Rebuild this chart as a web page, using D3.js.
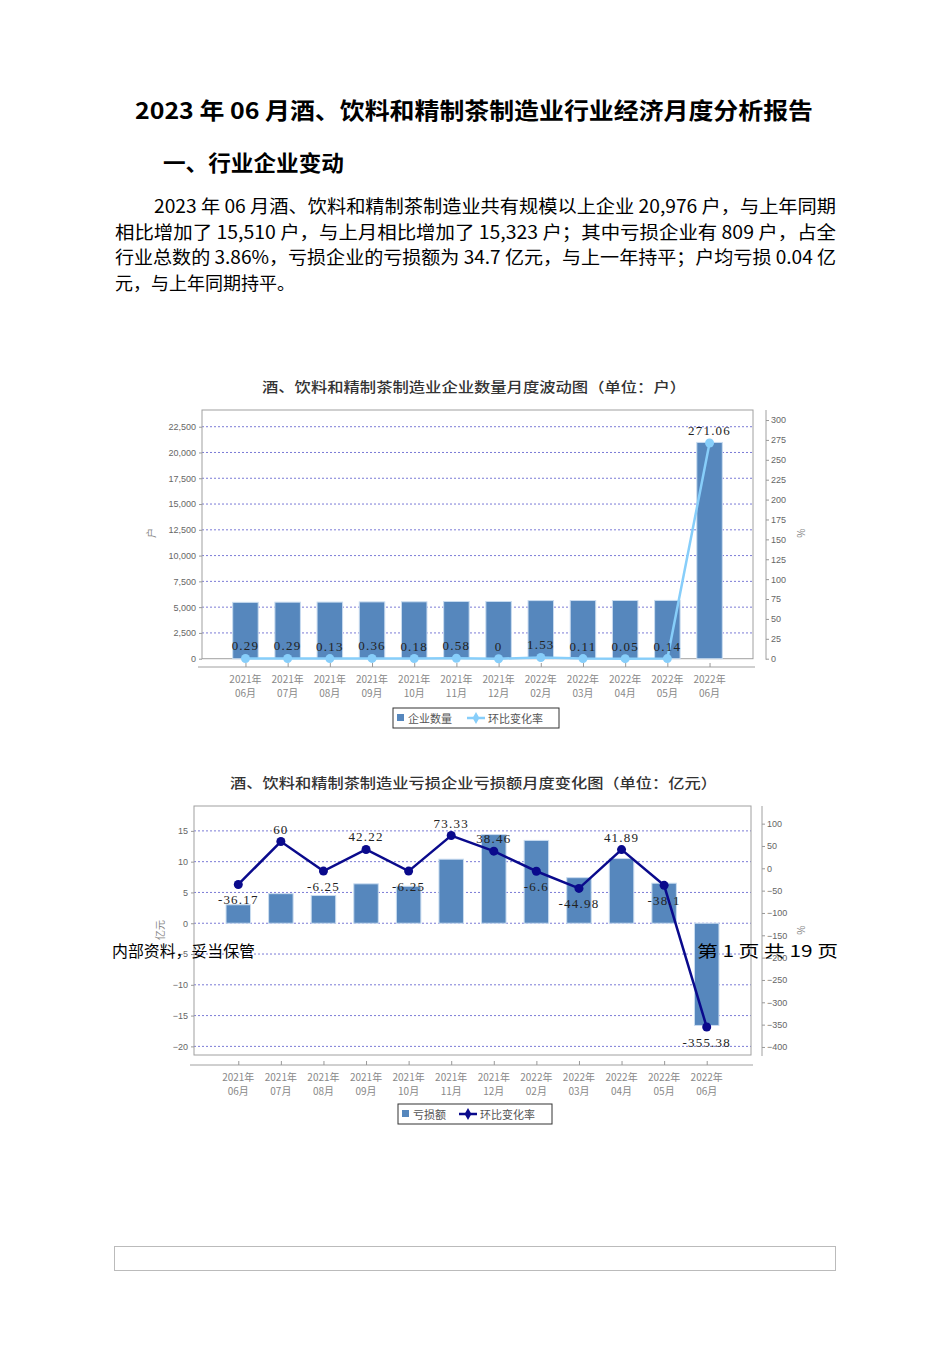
<!DOCTYPE html>
<html><head><meta charset="utf-8">
<script src="https://cdn.jsdelivr.net/npm/d3@7"></script>
<style>
html,body{margin:0;padding:0;background:#fff;}
svg{display:block;}
</style></head>
<body>
<svg id="page" width="950" height="1345"></svg>
<script>
// ---------- data ----------
const months = ["2021年06月","2021年07月","2021年08月","2021年09月","2021年10月","2021年11月","2021年12月","2022年02月","2022年03月","2022年04月","2022年05月","2022年06月"];
const firmCount = [5466, 5482, 5489, 5509, 5519, 5551, 5551, 5636, 5642, 5645, 5653, 20976];
const firmRate = [0.29, 0.29, 0.13, 0.36, 0.18, 0.58, 0, 1.53, 0.11, 0.05, 0.14, 271.06];
const lossAmount = [3.0, 4.8, 4.5, 6.4, 6.0, 10.4, 14.4, 13.45, 7.4, 10.5, 6.5, -16.6];
const lossRate = [-36.17, 60, -6.25, 42.22, -6.25, 73.33, 38.46, -6.6, -44.98, 41.89, -38.1, -355.38];
const countTicks = [0, 2500, 5000, 7500, 10000, 12500, 15000, 17500, 20000, 22500];
const countRateTicks = [0, 25, 50, 75, 100, 125, 150, 175, 200, 225, 250, 275, 300];
const lossTicks = [-20, -15, -10, -5, 0, 5, 10, 15];
const lossRateTicks = [-400, -350, -300, -250, -200, -150, -100, -50, 0, 50, 100];

const svg = d3.select("#page");
const CJK = "'Noto Sans CJK SC','Noto Sans',sans-serif";
const NUM = "'Liberation Serif','DejaVu Serif',serif";

// ---------- document text ----------
svg.append("text").attr("x",135).attr("y",119).attr("textLength",678).attr("lengthAdjust","spacingAndGlyphs")
  .style("font-family",CJK).style("font-size","23px").style("font-weight","bold").attr("fill","#000")
  .text("2023 年 06 月酒、饮料和精制茶制造业行业经济月度分析报告");
svg.append("text").attr("x",163).attr("y",171).attr("textLength",181).attr("lengthAdjust","spacingAndGlyphs")
  .style("font-family",CJK).style("font-size","22px").style("font-weight","bold").attr("fill","#000")
  .text("一、行业企业变动");
const para = [
  {x:154, y:213, w:682, t:"2023 年 06 月酒、饮料和精制茶制造业共有规模以上企业 20,976 户，与上年同期"},
  {x:115, y:239, w:721, t:"相比增加了 15,510 户，与上月相比增加了 15,323 户；其中亏损企业有 809 户，占全"},
  {x:115, y:264, w:721, t:"行业总数的 3.86%，亏损企业的亏损额为 34.7 亿元，与上一年持平；户均亏损 0.04 亿"},
  {x:115, y:290, w:null, t:"元，与上年同期持平。"}
];
para.forEach(p=>{
  const t = svg.append("text").attr("x",p.x).attr("y",p.y)
    .style("font-family",CJK).style("font-size","18px").attr("fill","#000").text(p.t);
  if(p.w) t.attr("textLength",p.w).attr("lengthAdjust","spacingAndGlyphs");
});

// ---------- helpers ----------
function chart(cfg){
  const g = svg.append("g");
  const x = d3.scalePoint().domain(months).range([cfg.left, cfg.right]).padding(cfg.pad);
  const yL = d3.scaleLinear().domain(cfg.yLdom).range([cfg.bottom, cfg.top]);
  const yR = d3.scaleLinear().domain(cfg.yRdom).range([cfg.bottom, cfg.top]);

  // title
  g.append("text").attr("x",cfg.titleX).attr("y",cfg.titleY).attr("textLength",cfg.titleW).attr("lengthAdjust","spacingAndGlyphs")
    .style("font-family",CJK).style("font-size","14px").style("font-weight","500").attr("fill","#333").text(cfg.title);

  // gridlines
  g.append("g").selectAll("line").data(cfg.yLticks.filter(v=>yL(v)<cfg.bottom-1)).join("line")
    .attr("x1",cfg.left).attr("x2",cfg.right).attr("y1",d=>yL(d)).attr("y2",d=>yL(d))
    .attr("stroke","#7b7bd6").attr("stroke-width",1).attr("stroke-dasharray","2,2");

  // plot border
  g.append("rect").attr("x",cfg.left).attr("y",cfg.top).attr("width",cfg.right-cfg.left).attr("height",cfg.bottom-cfg.top)
    .attr("fill","none").attr("stroke","#a0a0a0").attr("stroke-width",1);

  // left axis
  const la = g.append("g").attr("transform",`translate(${cfg.left},0)`)
    .call(d3.axisLeft(yL).tickValues(cfg.yLticks).tickFormat(cfg.yLfmt).tickSize(3).tickSizeOuter(0));
  la.select(".domain").remove();
  la.selectAll("line").attr("stroke","#999");
  la.selectAll("text").attr("fill","#666").style("font-family","'Liberation Sans',Arial,sans-serif").style("font-size","9px").attr("x",-6);

  // right axis
  const ra = g.append("g").attr("transform",`translate(${cfg.raxis},0)`)
    .call(d3.axisRight(yR).tickValues(cfg.yRticks).tickSize(3).tickSizeOuter(0));
  ra.select(".domain").attr("stroke","#a0a0a0").attr("d",`M0,${cfg.top}V${cfg.bottom+1}`);
  ra.selectAll("line").attr("stroke","#999");
  ra.selectAll("text").attr("fill","#666").style("font-family","'Liberation Sans',Arial,sans-serif").style("font-size","9px").attr("x",5);

  // axis titles
  g.append("text").attr("transform",`translate(${cfg.lTitleX},${cfg.midY}) rotate(-90)`).attr("text-anchor","middle")
    .style("font-family",CJK).style("font-size","10px").attr("fill","#888").text(cfg.lTitle);
  g.append("text").attr("transform",`translate(${cfg.rTitleX},${cfg.midY}) rotate(90)`).attr("text-anchor","middle")
    .style("font-family",CJK).style("font-size","10px").attr("fill","#888").text("%");

  // bottom category axis
  const ba = g.append("g").attr("transform",`translate(0,${cfg.catY})`)
    .call(d3.axisBottom(x).tickSize(-4).tickSizeOuter(0).tickFormat(""));
  ba.select(".domain").attr("stroke","#a0a0a0").attr("d",`M${cfg.left-4},0H${cfg.right+2}`);
  ba.selectAll("line").attr("stroke","#999");
  const lab = g.append("g").selectAll("text").data(months).join("text")
    .attr("x",d=>x(d)).attr("text-anchor","middle")
    .style("font-family",CJK).style("font-size","10px").attr("fill","#888");
  lab.append("tspan").attr("x",d=>x(d)).attr("y",cfg.catY+16).text(d=>d.slice(0,5));
  lab.append("tspan").attr("x",d=>x(d)).attr("y",cfg.catY+30).text(d=>d.slice(5));

  // bars
  const bw = cfg.barW;
  g.append("g").selectAll("rect").data(cfg.bars).join("rect")
    .attr("x",(d,i)=>x(months[i])-bw/2).attr("width",bw)
    .attr("y",d=>Math.min(yL(d),yL(0))).attr("height",d=>Math.abs(yL(d)-yL(0)))
    .attr("fill","#5687bd").attr("stroke","#c9dcf0").attr("stroke-width",1);

  // line
  const line = d3.line().x((d,i)=>x(months[i])).y(d=>yR(d));
  g.append("path").datum(cfg.rates).attr("d",line).attr("fill","none")
    .attr("stroke",cfg.lineColor).attr("stroke-width",2.5);
  g.append("g").selectAll("circle").data(cfg.rates).join("circle")
    .attr("cx",(d,i)=>x(months[i])).attr("cy",d=>yR(d)).attr("r",cfg.r).attr("fill",cfg.lineColor);

  // value labels
  g.append("g").selectAll("text").data(cfg.rates).join("text")
    .attr("x",(d,i)=>x(months[i])).attr("y",d=> d<0 ? yR(d)+20 : yR(d)-8).attr("text-anchor","middle")
    .style("font-family",NUM).style("font-size","13px").style("letter-spacing","1.2px").attr("fill","#222").text(d=>String(d));

  // legend
  const lg = g.append("g");
  lg.append("rect").attr("x",cfg.lgX).attr("y",cfg.lgY).attr("width",cfg.lgW).attr("height",20)
    .attr("fill","#fff").attr("stroke","#333").attr("stroke-width",1);
  lg.append("rect").attr("x",cfg.lgX+4).attr("y",cfg.lgY+6).attr("width",7).attr("height",7).attr("fill","#5687bd");
  lg.append("text").attr("x",cfg.lgX+15).attr("y",cfg.lgY+14.5).style("font-family",CJK).style("font-size","11px").attr("fill","#555").text(cfg.barName);
  const lx = cfg.lgX+cfg.lgLineOff;
  lg.append("line").attr("x1",lx).attr("x2",lx+18).attr("y1",cfg.lgY+10).attr("y2",cfg.lgY+10).attr("stroke",cfg.lineColor).attr("stroke-width",2.5);
  lg.append("path").attr("d",d3.symbol(d3.symbolDiamond,40)()).attr("transform",`translate(${lx+9},${cfg.lgY+10})`).attr("fill",cfg.lineColor);
  lg.append("text").attr("x",lx+21).attr("y",cfg.lgY+14.5).style("font-family",CJK).style("font-size","11px").attr("fill","#555").text("环比变化率");
}

chart({
  title:"酒、饮料和精制茶制造业企业数量月度波动图（单位：户）", titleX:262, titleY:392, titleW:424,
  left:202, right:753, top:410, bottom:658.7, pad:1.03, raxis:766,
  yLdom:[0,24120], yRdom:[0,312.6], yLticks:countTicks, yRticks:countRateTicks, yLfmt:d3.format(","),
  lTitle:"户", lTitleX:155, rTitleX:797, midY:533, catY:667,
  bars:firmCount, rates:firmRate, barW:25.5, lineColor:"#87cefa", r:4.5,
  barName:"企业数量", lgX:393, lgY:708, lgW:166, lgLineOff:74
});

chart({
  title:"酒、饮料和精制茶制造业亏损企业亏损额月度变化图（单位：亿元）", titleX:230, titleY:788, titleW:487,
  left:194, right:751, top:806, bottom:1055, pad:1.04, raxis:762,
  yLdom:[-21.4,19.04], yRdom:[-418,139.5], yLticks:lossTicks, yRticks:lossRateTicks, yLfmt:d3.format("d"),
  lTitle:"亿元", lTitleX:164, rTitleX:797, midY:930, catY:1065,
  bars:lossAmount, rates:lossRate, barW:24.5, lineColor:"#0a0a8c", r:4.5,
  barName:"亏损额", lgX:398, lgY:1104, lgW:154, lgLineOff:61
});

// page overlays (page header/footer text printed over the chart, as in the reference)
svg.append("text").attr("x",112).attr("y",957).style("font-family",CJK).style("font-size","16px").attr("fill","#000")
  .attr("textLength",143).attr("lengthAdjust","spacingAndGlyphs").text("内部资料，妥当保管");
svg.append("text").attr("x",697).attr("y",957).style("font-family",CJK).style("font-size","16px").attr("fill","#000")
  .attr("textLength",141).attr("lengthAdjust","spacingAndGlyphs").text("第 1 页 共 19 页");
svg.append("rect").attr("x",114.5).attr("y",1246.5).attr("width",721).attr("height",24)
  .attr("fill","none").attr("stroke","#bbb").attr("stroke-width",1);
</script>
</body></html>
